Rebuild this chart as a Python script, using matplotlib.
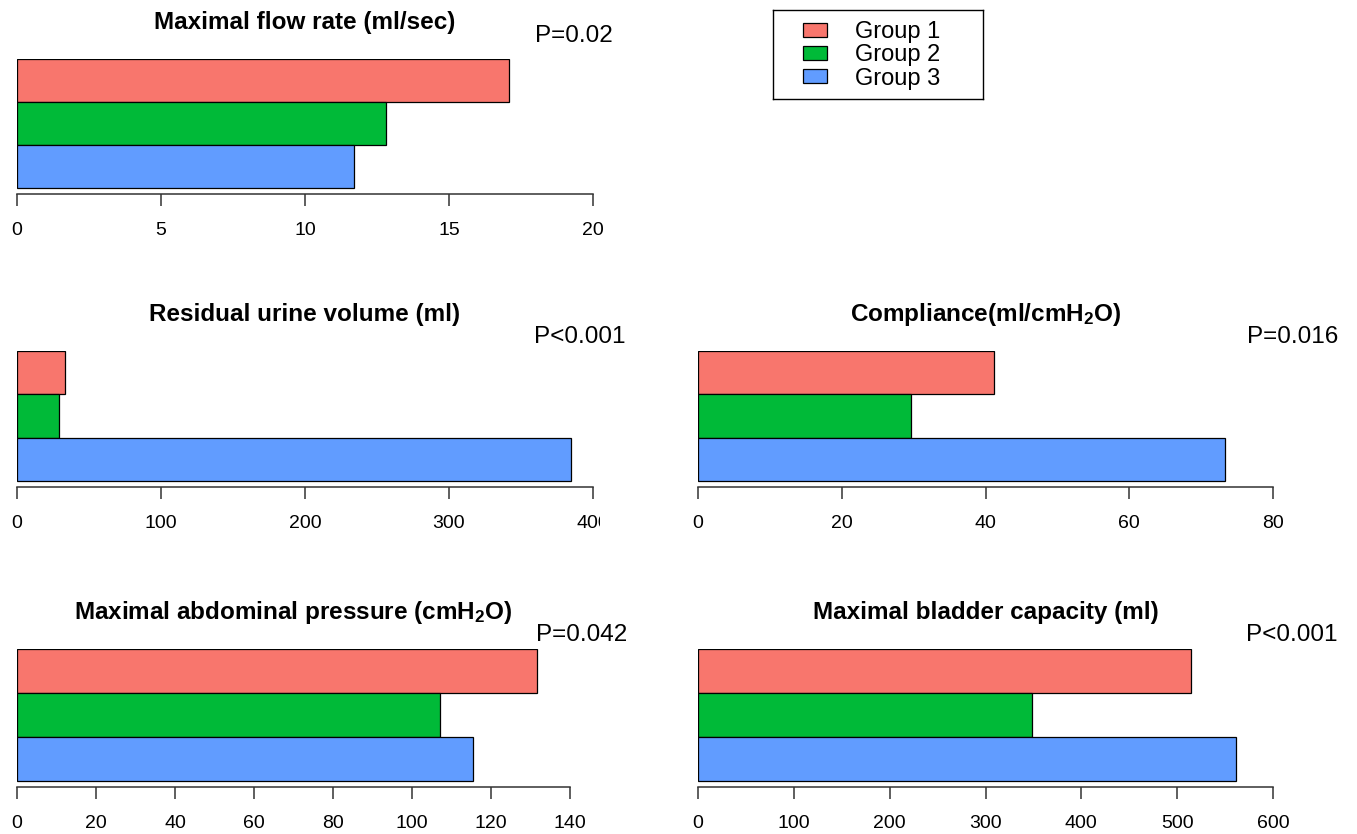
import matplotlib
matplotlib.use('Agg')
import matplotlib.pyplot as plt
from matplotlib.patches import Patch
from matplotlib.transforms import Bbox, TransformedBbox

plt.rcParams['font.family'] = ['Liberation Sans', 'DejaVu Sans']
plt.rcParams['mathtext.default'] = 'regular'

# donnees
groupes = ['Group 1', 'Group 2', 'Group 3']
couleurs = ['#F8766D', '#00BA38', '#619CFF']

titres = ['Maximal flow rate (ml/sec)',
          'Residual urine volume (ml)',
          'Compliance(ml/cmH$_2$O)',
          'Maximal abdominal pressure (cmH$_2$O)',
          'Maximal bladder capacity (ml)']
p_valeurs = ['P=0.02', 'P<0.001', 'P=0.016', 'P=0.042', 'P<0.001']

debit_max = [17.1, 12.8, 11.7]
residu = [33, 29, 385]
compliance = [41.2, 29.6, 73.3]
pression_abdo = [131.6, 107.1, 115.4]
capacite = [514, 349, 561]
valeurs = [debit_max, residu, compliance, pression_abdo, capacite]

ticks = [[0, 5, 10, 15, 20],
         [0, 100, 200, 300, 400],
         [0, 20, 40, 60, 80],
         [0, 20, 40, 60, 80, 100, 120, 140],
         [0, 100, 200, 300, 400, 500, 600]]

W, H = 1357, 834
fig = plt.figure(figsize=(W / 100, H / 100), dpi=100)

# positions des panneaux en pixels: gauche, droite, haut des barres, ligne d'axe
panneaux = [(17, 593, 59, 194),
            (17, 593, 351, 487),
            (698, 1273, 351, 487),
            (17, 570, 649, 787),
            (698, 1273, 649, 787)]
# positions des p-valeurs (bord droit, centre vertical)
pos_p = [(613, 36), (626, 337), (1338, 337), (627, 635), (1337, 635)]

# l'etiquette "400" est coupee dans l'original
coupe = TransformedBbox(Bbox([[0, 0], [600 / W, 1]]), fig.transFigure)

for i, (g, d, haut, axe) in enumerate(panneaux):
    ax = fig.add_axes([g / W, 1 - axe / H, (d - g) / W, (axe - haut) / H])
    bas_barres = axe - 6
    unite = (bas_barres - haut) / 3
    ypos = [2, 1, 0]
    ax.barh(ypos, valeurs[i], height=1, color=couleurs,
            edgecolor='black', linewidth=0.9)
    ax.set_ylim(-0.5 - 6 / unite, 2.5)
    ax.set_xlim(ticks[i][0], ticks[i][-1])
    ax.set_xticks(ticks[i])
    for s in ['top', 'right', 'left']:
        ax.spines[s].set_visible(False)
    ax.spines['bottom'].set_color('#333333')
    ax.spines['bottom'].set_linewidth(1.1)
    ax.set_yticks([])
    ax.tick_params(axis='x', direction='out', length=8.5, width=1.1,
                   color='#333333', labelsize=14, pad=12)
    ax.patch.set_alpha(0)
    for lab in ax.get_xticklabels():
        lab.set_clip_on(i == 1)
        if i == 1:
            lab.set_clip_box(coupe)
    # titre et p-valeur
    fig.text((g + d) / 2 / W, 1 - (haut - 37) / H, titres[i],
             ha='center', va='center', fontsize=17.5, fontweight='bold')
    px, py = pos_p[i]
    fig.text(px / W, 1 - py / H, p_valeurs[i], ha='right', va='center',
             fontsize=17.5)

# cadre de legende (pixels 773-983 x 10-99)
axl = fig.add_axes([773 / W, 1 - 99 / H, 210 / W, 89 / H])
axl.set_xticks([])
axl.set_yticks([])
for s in axl.spines.values():
    s.set_linewidth(1.0)
    s.set_color('black')
poignees = [Patch(facecolor=c, edgecolor='black', linewidth=0.9) for c in couleurs]
axl.legend(poignees, groupes, loc='center left',
           bbox_to_anchor=(30 / 210, 0.49), fontsize=17, frameon=False,
           handlelength=1.0, handleheight=0.55, handletextpad=1.2,
           labelspacing=0.05, borderpad=0, borderaxespad=0)

fig.savefig('out.png', dpi=100)
